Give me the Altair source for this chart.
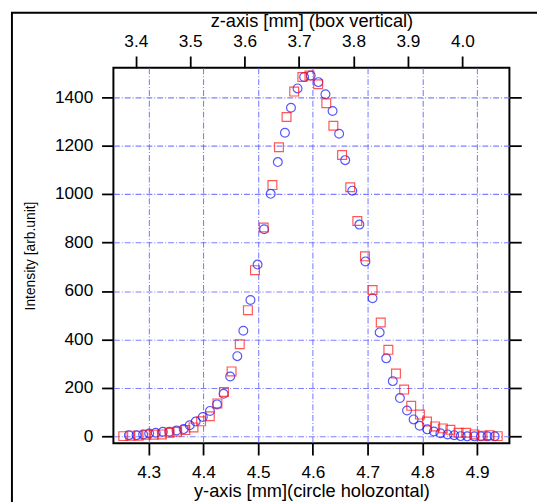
import altair as alt
import pandas as pd

# Blue circles: horizontal scan, bottom axis (y-axis [mm])
blue_pos = [4.264, 4.278, 4.290, 4.301, 4.313, 4.326, 4.338, 4.351, 4.364, 4.375,
            4.386, 4.399, 4.412, 4.425, 4.437, 4.449, 4.462, 4.473, 4.486, 4.499,
            4.511, 4.523, 4.536, 4.549, 4.560, 4.572, 4.584, 4.596, 4.610, 4.623,
            4.636, 4.648, 4.659, 4.672, 4.685, 4.696, 4.709, 4.722, 4.734, 4.746,
            4.759, 4.772, 4.784, 4.795, 4.809, 4.821, 4.833, 4.846, 4.858, 4.870,
            4.882, 4.895, 4.907, 4.919, 4.932]
blue_int = [5, 5, 8, 12, 15, 19, 19, 24, 30, 46,
            61, 80, 105, 132, 176, 247, 331, 436, 563, 709,
            855, 1001, 1132, 1253, 1356, 1436, 1483, 1489, 1462, 1412,
            1343, 1249, 1140, 1014, 874, 722, 570, 429, 322, 228,
            158, 107, 70, 44, 29, 20, 13, 8, 5, 1,
            0, 0, 0, 0, 0]

# Red squares: vertical scan, top axis (z-axis [mm])
red_pos = [3.377, 3.390, 3.405, 3.419, 3.433, 3.448, 3.462, 3.476, 3.491, 3.506,
           3.520, 3.536, 3.550, 3.562, 3.576, 3.591, 3.606, 3.619, 3.635, 3.651,
           3.663, 3.677, 3.691, 3.706, 3.719, 3.735, 3.750, 3.763, 3.779, 3.794,
           3.807, 3.821, 3.835, 3.850, 3.864, 3.878, 3.893, 3.906, 3.922, 3.935,
           3.950, 3.964, 3.978, 3.993, 4.007, 4.022, 4.037, 4.050, 4.065]
red_int = [1, 3, 3, 7, 7, 8, 15, 19, 26, 37,
           62, 83, 136, 183, 268, 380, 521, 686, 862, 1037,
           1193, 1318, 1423, 1483, 1489, 1453, 1375, 1282, 1161, 1028,
           889, 743, 604, 470, 357, 259, 193, 126, 90, 61,
           41, 33, 27, 15, 15, 8, 3, 5, 1]

bottom_ticks = [4.3, 4.4, 4.5, 4.6, 4.7, 4.8, 4.9]
top_ticks = [3.4, 3.5, 3.6, 3.7, 3.8, 3.9, 4.0]
y_ticks = [0, 200, 400, 600, 800, 1000, 1200, 1400]

blue_df = pd.DataFrame({"pos": blue_pos, "intensity": blue_int})
red_df = pd.DataFrame({"pos": red_pos, "intensity": red_int})

FONT = "Liberation Sans"
ydom = [-28, 1521]
grid_kw = dict(grid=True, gridColor="#6a6aff", gridDash=[6, 2, 1, 2], gridWidth=1.1, gridOpacity=0.85)
common = dict(domain=False, tickColor="black", tickWidth=1.8, tickSize=12,
              labelFont=FONT, labelFontSize=17.5, labelColor="black",
              titleFont=FONT, titleFontSize=18.5, titleFontWeight="normal", titleColor="black")

border = alt.Chart(pd.DataFrame({"a": [0]})).mark_rect(
    fill="transparent", stroke="black", strokeWidth=2
).encode(x=alt.value(-103), x2=alt.value(460), y=alt.value(-56), y2=alt.value(500))

blue = alt.Chart(blue_df).mark_point(
    shape="circle", filled=False, color="#1010ff", size=80, strokeWidth=1.2
).encode(
    x=alt.X("pos:Q", scale=alt.Scale(domain=[4.2357, 4.959], nice=False, zero=False),
            axis=alt.Axis(orient="bottom", values=bottom_ticks, format=".1f",
                          title="y-axis [mm](circle holozontal)", labelPadding=9,
                          titlePadding=1, **grid_kw, **common)),
    y=alt.Y("intensity:Q", scale=alt.Scale(domain=ydom, nice=False, zero=False),
            axis=alt.Axis(orient="left", values=y_ticks, format="d", title="Intensity [arb.unit]",
                          labelPadding=9, titleFontSize=14, titlePadding=17,
                          **grid_kw, **{k: v for k, v in common.items() if k != "titleFontSize"})),
)

red = alt.Chart(red_df).mark_point(
    shape="square", filled=False, color="#ff1010", size=80, strokeWidth=1.2
).encode(
    x=alt.X("pos:Q", scale=alt.Scale(domain=[3.3589, 4.0864], nice=False, zero=False),
            axis=alt.Axis(orient="top", values=top_ticks, format=".1f",
                          title="z-axis [mm] (box vertical)", labelPadding=6,
                          titlePadding=2, grid=False, **common)),
    y=alt.Y("intensity:Q", scale=alt.Scale(domain=ydom, nice=False, zero=False),
            axis=alt.Axis(orient="right", values=y_ticks, labels=False, title=None,
                          grid=False, **common)),
)

chart = alt.layer(border, blue, red).resolve_scale(x="independent", y="independent").properties(
    width=402, height=381,
    autosize=alt.AutoSizeParams(type="none"),
    padding={"left": 107, "top": 57, "right": 28, "bottom": 56},
).configure_view(stroke="black", strokeWidth=2)

chart.save("out.html", embed_options={"renderer": "svg", "actions": False})
